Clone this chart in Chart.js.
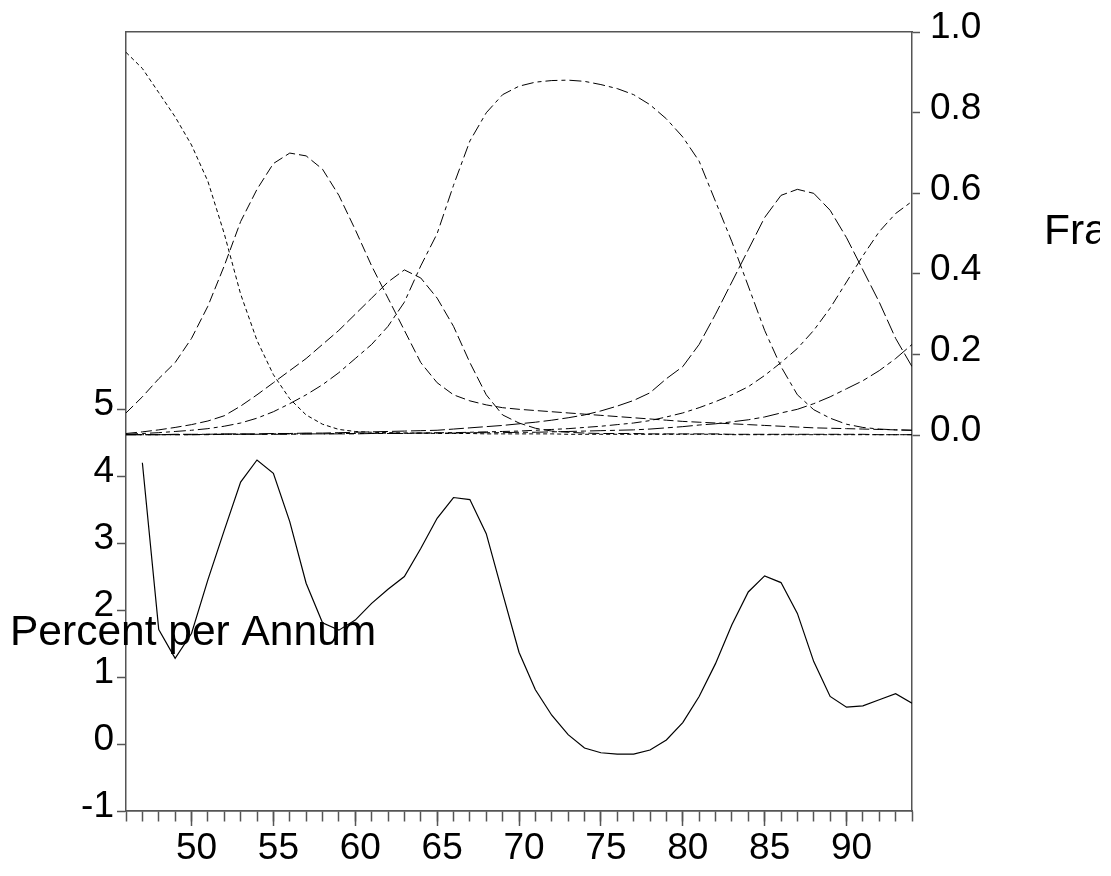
<!DOCTYPE html>
<html>
<head>
<meta charset="utf-8">
<script src="https://cdn.jsdelivr.net/npm/chart.js@4.4.1/dist/chart.umd.min.js"></script>
<style>
html,body{margin:0;padding:0;background:#fff;}
#wrap{width:1111px;height:876px;position:relative;}
canvas{display:block;}
</style>
</head>
<body>
<div id="wrap"><canvas id="c" width="1111" height="876"></canvas></div>
<script>
// ---- data (years 1946..1994) ----
const years = [46,47,48,49,50,51,52,53,54,55,56,57,58,59,60,61,62,63,64,65,66,67,68,69,70,
               71,72,73,74,75,76,77,78,79,80,81,82,83,84,85,86,87,88,89,90,91,92,93,94];

// lower panel: Percent per Annum (left axis)
const percentPerAnnum = [null,4.20,1.71,1.28,1.65,2.45,3.19,3.91,4.24,4.04,3.32,2.40,1.81,1.70,1.85,
  2.10,2.31,2.50,2.92,3.37,3.68,3.65,3.14,2.25,1.37,0.81,0.43,0.14,-0.06,-0.13,-0.15,-0.15,-0.09,
  0.06,0.32,0.71,1.20,1.78,2.27,2.51,2.41,1.95,1.23,0.71,0.55,0.57,0.66,0.75,0.61];

// upper panel: Fractions (right axis)
const fracS = [0.95,0.91,0.85,0.79,0.72,0.63,0.50,0.35,0.235,0.15,0.09,0.05,0.027,0.014,0.009,
  0.007,0.006,0.005,0.005,0.004,0.004,0.004,0.003,0.003,0.003,0.003,0.003,0.002,0.002,0.002,0.002,
  0.002,0.002,0.002,0.002,0.002,0.002,0.001,0.001,0.001,0.001,0.001,0.001,0.001,0.001,0.001,0.001,0.001,0.001];
const fracB = [0.055,0.095,0.14,0.18,0.24,0.32,0.42,0.53,0.61,0.674,0.70,0.693,0.66,0.595,0.51,
  0.42,0.34,0.26,0.18,0.13,0.10,0.085,0.075,0.068,0.064,0.061,0.058,0.055,0.052,0.049,0.046,0.043,
  0.040,0.037,0.034,0.032,0.030,0.028,0.026,0.024,0.022,0.020,0.018,0.017,0.016,0.015,0.014,0.013,0.012];
const fracC = [0.004,0.008,0.013,0.019,0.026,0.035,0.048,0.072,0.10,0.13,0.16,0.19,0.225,0.26,0.30,
  0.34,0.38,0.41,0.39,0.34,0.27,0.18,0.10,0.05,0.03,0.017,0.010,0.007,0.005,0.004,0.004,0.004,
  0.003,0.003,0.003,0.003,0.003,0.002,0.002,0.002,0.002,0.002,0.002,0.002,0.002,0.002,0.001,0.001,0.001];
const fracD = [0.002,0.004,0.006,0.009,0.012,0.016,0.022,0.03,0.042,0.058,0.078,0.10,0.125,0.155,0.19,
  0.225,0.27,0.33,0.42,0.50,0.62,0.73,0.80,0.845,0.866,0.876,0.88,0.881,0.878,0.87,0.86,0.845,
  0.82,0.785,0.74,0.68,0.58,0.48,0.37,0.26,0.17,0.10,0.063,0.042,0.027,0.019,0.015,0.013,0.012];
const fracE = [0.001,0.001,0.001,0.002,0.002,0.002,0.003,0.003,0.003,0.004,0.004,0.005,0.005,0.006,0.007,
  0.008,0.009,0.010,0.011,0.012,0.015,0.018,0.021,0.024,0.028,0.032,0.037,0.043,0.05,0.06,0.072,0.086,
  0.105,0.14,0.17,0.225,0.30,0.38,0.46,0.54,0.595,0.61,0.60,0.558,0.49,0.41,0.33,0.24,0.17];
const fracF = [0.001,0.001,0.001,0.001,0.001,0.002,0.002,0.002,0.002,0.003,0.003,0.003,0.003,0.004,0.004,
  0.004,0.005,0.005,0.005,0.006,0.006,0.007,0.008,0.009,0.010,0.012,0.014,0.016,0.019,0.022,0.026,0.030,
  0.036,0.045,0.055,0.068,0.083,0.10,0.12,0.148,0.18,0.215,0.26,0.315,0.38,0.445,0.505,0.55,0.58];
const fracG = [0.001,0.001,0.001,0.001,0.001,0.001,0.002,0.002,0.002,0.002,0.002,0.003,0.003,0.003,0.003,
  0.004,0.004,0.004,0.005,0.005,0.005,0.006,0.006,0.006,0.007,0.007,0.008,0.009,0.010,0.011,0.012,0.013,
  0.015,0.018,0.021,0.025,0.028,0.033,0.038,0.045,0.055,0.064,0.078,0.095,0.115,0.135,0.16,0.19,0.225];

// tick labels
const xLabelTicks = [50,55,60,65,70,75,80,85,90];
const leftTicks = [-1,0,1,2,3,4,5];
const rightTicks = [0,0.2,0.4,0.6,0.8,1.0];
const leftTitle = 'Percent per Annum';
const rightTitle = 'Fraction';

// ---- build ----
const FONT = '"Liberation Sans", Arial, Helvetica, sans-serif';
const AXIS = '#555';
const TICKSIZE = 37;
const pts = arr => years.map((y, i) => ({x: y, y: arr[i]}));

function frac(data, dash) {
  return { data: pts(data), yAxisID: 'y1', xAxisID: 'x', borderColor: '#000', borderWidth: 1,
           borderDash: dash, pointRadius: 0, fill: false, tension: 0, spanGaps: false };
}

const datasets = [
  frac(fracS, [4, 3]),
  frac(fracB, [10, 4]),
  frac(fracC, [11, 4]),
  frac(fracD, [12, 4, 4, 4]),
  frac(fracE, [15, 4]),
  frac(fracF, [10, 4, 4, 4]),
  frac(fracG, [16, 4, 5, 4]),
  { data: pts(percentPerAnnum), yAxisID: 'y', xAxisID: 'x', borderColor: '#000', borderWidth: 1.2,
    pointRadius: 0, fill: false, tension: 0, spanGaps: false }
];

const titles = {
  id: 'titles',
  afterDatasetsDraw(chart) {
    const ctx = chart.ctx;
    ctx.save();
    ctx.fillStyle = '#000';
    ctx.font = '42.5px ' + FONT;
    ctx.textAlign = 'left';
    ctx.textBaseline = 'alphabetic';
    ctx.fillText(leftTitle, 10, 645);
    ctx.beginPath();
    ctx.rect(0, 0, 1100, 876);
    ctx.clip();
    ctx.fillText(rightTitle, 1044, 244);
    ctx.restore();
  }
};

new Chart(document.getElementById('c'), {
  type: 'line',
  data: { datasets },
  plugins: [titles],
  options: {
    responsive: false,
    animation: false,
    devicePixelRatio: 1,
    layout: { padding: 0 },
    plugins: { legend: { display: false }, tooltip: { enabled: false }, title: { display: false } },
    scales: {
      x: {
        type: 'linear', position: 'bottom', min: 46, max: 94,
        afterBuildTicks: s => { s.ticks = xLabelTicks.map(v => ({value: v})); },
        afterFit: s => { s.height = 65; },
        ticks: { autoSkip: false, maxRotation: 0, padding: 1, labelOffset: 5, color: '#000',
                 font: { family: FONT, size: TICKSIZE }, callback: v => String(v) },
        grid: { drawOnChartArea: false, drawTicks: true, tickLength: 15, tickColor: AXIS, tickWidth: 1.5 },
        border: { display: true, color: AXIS, width: 1.5 }
      },
      xMinor: {
        axis: 'x', type: 'linear', position: { y: -1 }, min: 46, max: 94,
        afterBuildTicks: s => { s.ticks = years.map(v => ({value: v})); },
        ticks: { display: false },
        grid: { drawOnChartArea: false, drawTicks: true, tickLength: 10, tickColor: AXIS, tickWidth: 1.5 },
        border: { display: true, color: AXIS, width: 1.5 }
      },
      xTop: {
        axis: 'x', type: 'linear', position: 'top', min: 46, max: 94,
        afterBuildTicks: s => { s.ticks = []; },
        afterFit: s => { s.height = 32; },
        ticks: { display: false },
        grid: { drawOnChartArea: false, drawTicks: false },
        border: { display: true, color: AXIS, width: 1.5 }
      },
      y: {
        type: 'linear', position: 'left', min: -1, max: 10.627,
        afterBuildTicks: s => { s.ticks = leftTicks.map(v => ({value: v})); },
        afterFit: s => { s.width = 126; },
        ticks: { padding: 3, labelOffset: -4, color: '#000', font: { family: FONT, size: TICKSIZE },
                 callback: v => String(v) },
        grid: { drawOnChartArea: false, drawTicks: true, tickLength: 9, tickColor: AXIS, tickWidth: 1.5 },
        border: { display: true, color: AXIS, width: 1.5 }
      },
      y1: {
        type: 'linear', position: 'right', min: -0.933, max: 1.0,
        afterBuildTicks: s => { s.ticks = rightTicks.map(v => ({value: v})); },
        afterFit: s => { s.width = 199; },
        ticks: { padding: 10, labelOffset: -4, color: '#000', font: { family: FONT, size: TICKSIZE },
                 callback: v => Number(v).toFixed(1) },
        grid: { drawOnChartArea: false, drawTicks: true, tickLength: 8, tickColor: AXIS, tickWidth: 1.5 },
        border: { display: true, color: AXIS, width: 1.5 }
      }
    }
  }
});
</script>
</body>
</html>
